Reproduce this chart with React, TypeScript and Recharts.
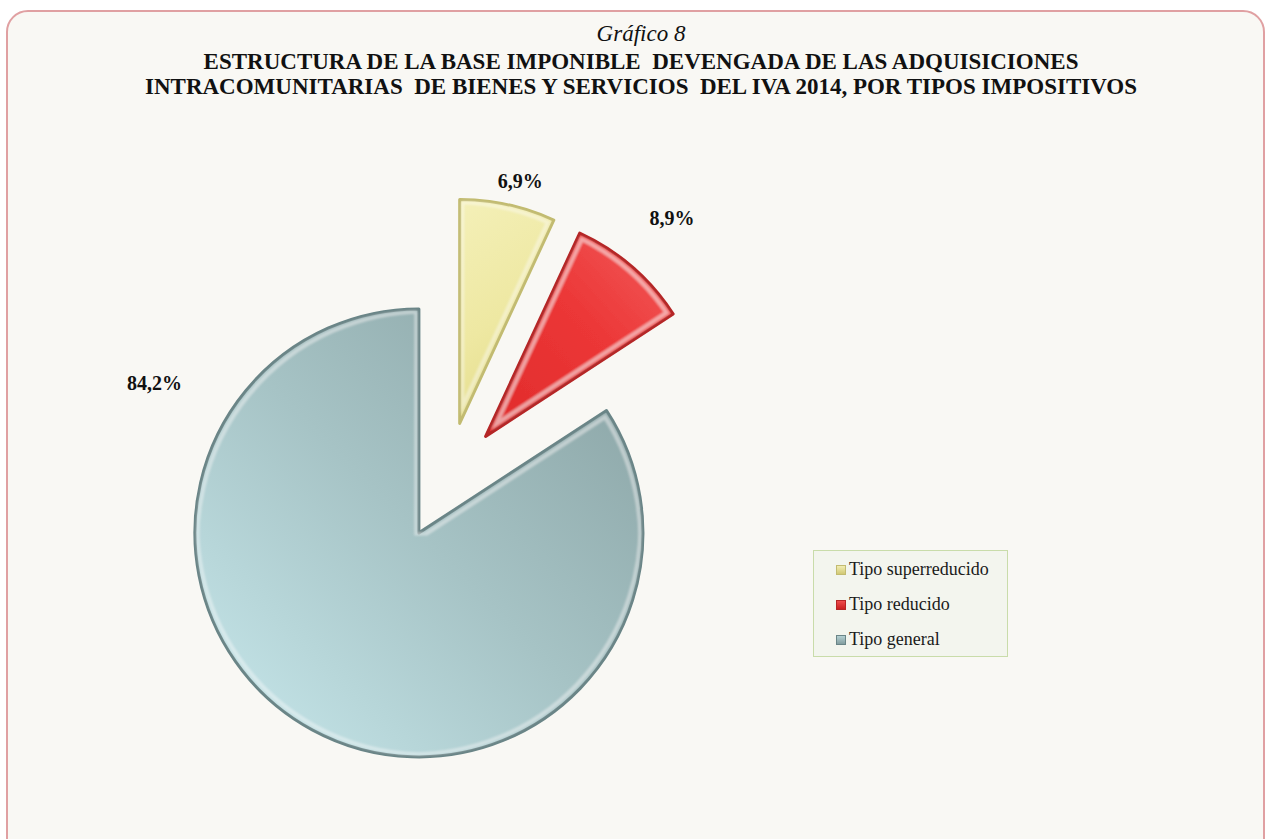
import React from "react";
import { PieChart, Pie, Cell, Legend } from "recharts";

const categories = ["Tipo superreducido", "Tipo reducido", "Tipo general"];
const shares = [6.9, 8.9, 84.2];
const shareLabels = ["6,9%", "8,9%", "84,2%"];

const data = categories.map((name, i) => ({ name, value: shares[i] }));
const total = shares.reduce((a, b) => a + b, 0);

// layout of the exploded pie
const PIE_CX = 447;
const PIE_CY = 481;
const RADIUS = 224;
const EXPLODE = 59;

const fills = ["url(#gYellow)", "url(#gRed)", "url(#gTeal)"];
const strokes = ["#c2bb70", "#b52626", "#6a8587"];
const swatches = ["url(#sYellow)", "url(#sRed)", "url(#sTeal)"];

// where each percentage sits, relative to its own slice centre:
// [degrees clockwise from 12 o'clock, distance in px]
const labelSpots: [number, number][] = [
  [14, 250],
  [40.5, 287],
  [299.6, 304],
];

const serif = '"Liberation Serif", "Times New Roman", serif';

function midAngle(i: number) {
  const before = shares.slice(0, i).reduce((a, b) => a + b, 0);
  return ((before + shares[i] / 2) / total) * 360;
}

function sliceCentre(i: number) {
  const a = (midAngle(i) * Math.PI) / 180;
  return { cx: PIE_CX + EXPLODE * Math.sin(a), cy: PIE_CY - EXPLODE * Math.cos(a) };
}

function makeLabel(target: number) {
  return (props: any) => {
    if (props.index !== target) return null;
    const [deg, dist] = labelSpots[target];
    const a = (deg * Math.PI) / 180;
    const x = props.cx + dist * Math.sin(a);
    const y = props.cy - dist * Math.cos(a);
    return (
      <text
        x={x}
        y={y}
        textAnchor="middle"
        dominantBaseline="central"
        fontFamily={serif}
        fontWeight="bold"
        fontSize={20}
        fill="#111"
      >
        {shareLabels[target]}
      </text>
    );
  };
}

function LegendBox() {
  return (
    <div
      style={{
        width: 195,
        height: 107,
        boxSizing: "border-box",
        border: "1px solid #c9dcaa",
        background: "#f3f5ee",
        padding: "1px 0 0 22px",
        fontFamily: serif,
        fontSize: 18,
        color: "#1a1a1a",
      }}
    >
      {categories.map((c, i) => (
        <div key={c} style={{ display: "flex", alignItems: "center", height: 35 }}>
          <svg width={10} height={10} style={{ marginRight: 3 }}>
            <rect x={0.5} y={0.5} width={9} height={9} fill={swatches[i]} stroke={strokes[i]} strokeWidth={1} />
          </svg>
          <span>{c}</span>
        </div>
      ))}
    </div>
  );
}

export default function App() {
  return (
    <div style={{ position: "relative", width: 1265, height: 839, background: "#fff", overflow: "hidden" }}>
      <style>{"body{margin:0;}"}</style>
      <div
        style={{
          position: "absolute",
          left: 6,
          top: 10,
          width: 1259,
          height: 880,
          boxSizing: "border-box",
          border: "2px solid #e0a0a2",
          borderRadius: 22,
          background: "#f9f8f4",
        }}
      />
      <div
        style={{
          position: "absolute",
          left: 0,
          top: 21,
          width: 1282,
          textAlign: "center",
          fontFamily: serif,
          fontStyle: "italic",
          fontSize: 23,
          lineHeight: "26px",
          color: "#111",
        }}
      >
        Gráfico 8
      </div>
      <div
        style={{
          position: "absolute",
          left: 0,
          top: 49,
          width: 1282,
          textAlign: "center",
          fontFamily: serif,
          fontWeight: "bold",
          fontSize: 23,
          lineHeight: "25px",
          color: "#111",
          whiteSpace: "pre",
        }}
      >
        {"ESTRUCTURA DE LA BASE IMPONIBLE  DEVENGADA DE LAS ADQUISICIONES\nINTRACOMUNITARIAS  DE BIENES Y SERVICIOS  DEL IVA 2014, POR TIPOS IMPOSITIVOS"}
      </div>
      <div style={{ position: "absolute", left: 0, top: 0 }}>
        <PieChart width={1265} height={839} margin={{ top: 0, right: 0, bottom: 0, left: 0 }}>
          <defs>
            <linearGradient id="gYellow" x1="0" y1="0" x2="0.3" y2="1">
              <stop offset="0%" stopColor="#f4f0b8" />
              <stop offset="60%" stopColor="#eee8a2" />
              <stop offset="100%" stopColor="#e4dd8c" />
            </linearGradient>
            <linearGradient id="gRed" x1="1" y1="0" x2="0" y2="1">
              <stop offset="0%" stopColor="#f25c5c" />
              <stop offset="45%" stopColor="#ec3737" />
              <stop offset="100%" stopColor="#e02a2a" />
            </linearGradient>
            <linearGradient id="gTeal" x1="1" y1="0" x2="0" y2="1">
              <stop offset="0%" stopColor="#87a0a1" />
              <stop offset="50%" stopColor="#a6c3c5" />
              <stop offset="100%" stopColor="#c9eaee" />
            </linearGradient>
            <linearGradient id="sYellow" x1="0" y1="0" x2="0" y2="1">
              <stop offset="0%" stopColor="#f4efb6" />
              <stop offset="100%" stopColor="#cfc670" />
            </linearGradient>
            <linearGradient id="sRed" x1="0" y1="0" x2="0" y2="1">
              <stop offset="0%" stopColor="#f05050" />
              <stop offset="100%" stopColor="#c81e1e" />
            </linearGradient>
            <linearGradient id="sTeal" x1="0" y1="0" x2="0" y2="1">
              <stop offset="0%" stopColor="#b8d4d6" />
              <stop offset="100%" stopColor="#7f9a9c" />
            </linearGradient>
            {/* thin light ridge just inside the edge, like the bevel in the original */}
            <filter id="bevel" x="-5%" y="-5%" width="110%" height="110%">
              <feMorphology in="SourceAlpha" operator="erode" radius="3" result="e1" />
              <feMorphology in="SourceAlpha" operator="erode" radius="6" result="e2" />
              <feComposite in="e1" in2="e2" operator="out" result="ring" />
              <feGaussianBlur in="ring" stdDeviation="1" result="ringBlur" />
              <feFlood floodColor="#ffffff" floodOpacity="0.35" result="white" />
              <feComposite in="white" in2="ringBlur" operator="in" result="hl" />
              <feMerge>
                <feMergeNode in="SourceGraphic" />
                <feMergeNode in="hl" />
              </feMerge>
            </filter>
          </defs>
          {categories.map((c, target) => {
            const { cx, cy } = sliceCentre(target);
            return (
              <Pie
                key={c}
                data={data}
                dataKey="value"
                nameKey="name"
                cx={cx}
                cy={cy}
                outerRadius={RADIUS}
                startAngle={90}
                endAngle={-270}
                isAnimationActive={false}
                labelLine={false}
                label={makeLabel(target)}
              >
                {data.map((d, i) => (
                  <Cell
                    key={d.name}
                    fill={i === target ? fills[i] : "none"}
                    stroke={i === target ? strokes[i] : "none"}
                    strokeWidth={3}
                    strokeLinejoin="round"
                    filter={i === target ? "url(#bevel)" : undefined}
                  />
                ))}
              </Pie>
            );
          })}
          <Legend
            layout="vertical"
            align="right"
            verticalAlign="middle"
            content={() => <LegendBox />}
            wrapperStyle={{ left: 813, top: 550, right: "auto", bottom: "auto", width: 195 }}
          />
        </PieChart>
      </div>
    </div>
  );
}
